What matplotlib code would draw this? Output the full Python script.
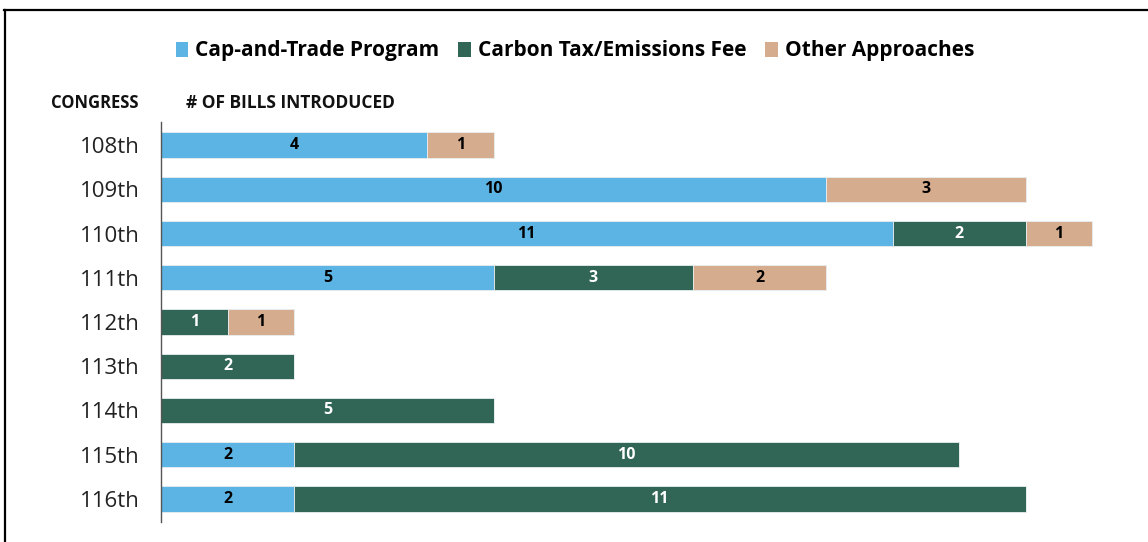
import matplotlib
matplotlib.use("Agg")
import matplotlib.pyplot as plt
from matplotlib.lines import Line2D
from matplotlib.patches import Patch

congress = ["108th", "109th", "110th", "111th", "112th", "113th", "114th", "115th", "116th"]
cap_trade = [4, 10, 11, 5, 0, 0, 0, 2, 2]
carbon_tax = [0, 0, 2, 3, 1, 2, 5, 10, 11]
other = [1, 3, 1, 2, 1, 0, 0, 0, 0]
series_names = ["Cap-and-Trade Program", "Carbon Tax/Emissions Fee", "Other Approaches"]
colors = ["#5BB4E4", "#316556", "#D6AC8E"]
label_colors = ["black", "white", "black"]

plt.rcParams["font.family"] = ["Open Sans", "DejaVu Sans"]

W, H = 1148, 542
fig = plt.figure(figsize=(W / 100, H / 100), dpi=100)
ax = fig.add_axes([161 / W, 1 - 522 / H, (1125 - 161) / W, 400 / H])

ypos = list(range(len(congress)))
left = [0] * len(congress)
for vals, col, lc in zip([cap_trade, carbon_tax, other], colors, label_colors):
    bars = ax.barh(ypos, vals, left=left, height=0.57, color=col,
                   edgecolor="#E8EEF0", linewidth=0.6)
    for b, v in zip(bars, vals):
        if v > 0:
            ax.text(b.get_x() + b.get_width() / 2, b.get_y() + b.get_height() / 2,
                    str(v), ha="center", va="center", color=lc,
                    fontsize=11.5, fontweight="bold")
    left = [l + v for l, v in zip(left, vals)]

ax.set_xlim(0, (1125 - 161) / 66.5)
ax.set_ylim(8.52, -0.52)
ax.set_yticks(ypos)
ax.set_yticklabels(congress, fontsize=16, color="#222222")
ax.tick_params(axis="y", length=0, pad=15)
ax.set_xticks([])
for s in ["top", "right", "bottom"]:
    ax.spines[s].set_visible(False)
ax.spines["left"].set_color("#555555")
ax.spines["left"].set_linewidth(1.0)

handles = [Patch(facecolor=c, edgecolor="none") for c in colors]
fig.legend(handles, series_names, loc="center", bbox_to_anchor=(575 / W, 1 - 51 / H),
           ncol=3, frameon=False, handlelength=0.6, handleheight=0.75,
           handletextpad=0.35, columnspacing=0.9,
           prop={"weight": "bold", "size": 15})

fig.text(95 / W, 1 - 103 / H, "CONGRESS", ha="center", va="center",
         fontsize=12, fontweight="bold", color="#111111")
fig.text(186 / W, 1 - 103 / H, "# OF BILLS INTRODUCED", ha="left", va="center",
         fontsize=12.5, fontweight="bold", color="#111111")

# outer frame (extends beyond right/bottom edges)
fig.add_artist(Line2D([4 / W, 1.0], [1 - 10 / H, 1 - 10 / H], color="black", linewidth=1.6,
                      transform=fig.transFigure))
fig.add_artist(Line2D([5 / W, 5 / W], [0, 1 - 10 / H], color="black", linewidth=1.6,
                      transform=fig.transFigure))

fig.savefig("out.png", dpi=100)
